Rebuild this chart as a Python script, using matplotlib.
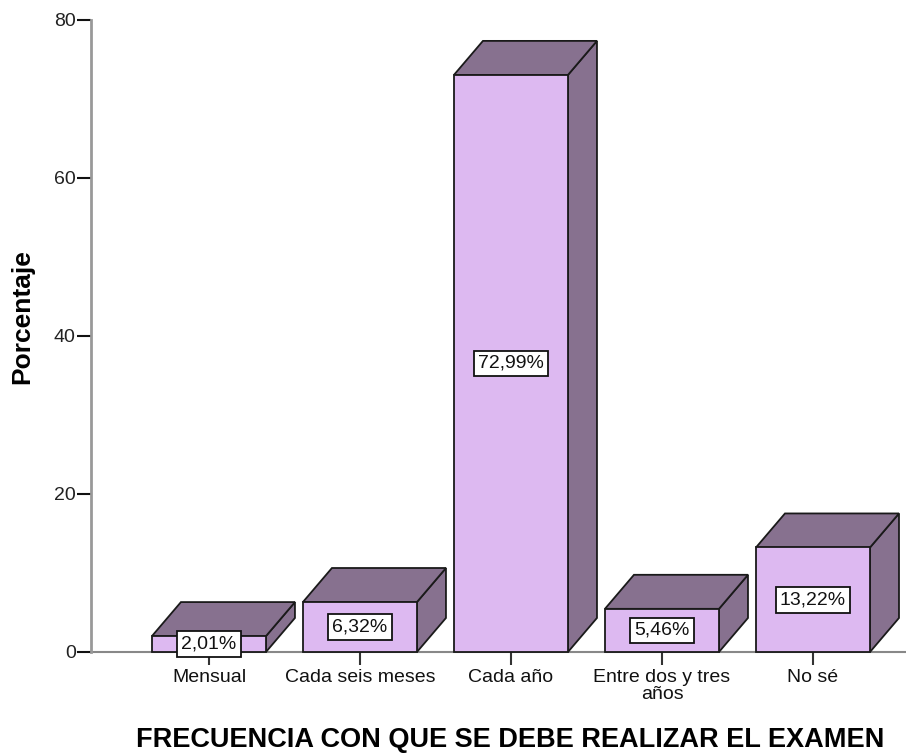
import matplotlib
matplotlib.use('Agg')
import matplotlib.pyplot as plt
from matplotlib.patches import Polygon

plt.rcParams['font.family'] = ['Liberation Sans', 'DejaVu Sans']

# data
categories = ["Mensual", "Cada seis meses", "Cada año", "Entre dos y tres\naños", "No sé"]
percentages = [2.01, 6.32, 72.99, 5.46, 13.22]
y_ticks = [0, 20, 40, 60, 80]

front_color = '#DDB9F1'
dark_color = '#87718F'
edge_color = '#1a1a1a'

fig = plt.figure(figsize=(9.06, 7.53), dpi=100)
ax = fig.add_axes([91 / 906, 101 / 753, 1 - 91 / 906, 632.5 / 753])

ax.set_xlim(-0.781, 4.616)
ax.set_ylim(0, 80)

bar_w = 0.755
# 3D depth, expressed in data units (about 29 px right, 34 px up)
dx = 29 / 151
dy = 34 / 7.9

for i, val in enumerate(percentages):
    x0 = i - bar_w / 2
    x1 = i + bar_w / 2
    # right side face
    side = Polygon([(x1, 0), (x1 + dx, dy), (x1 + dx, val + dy), (x1, val)],
                   closed=True, facecolor=dark_color, edgecolor=edge_color, lw=1.3,
                   zorder=2, clip_on=False)
    # top face
    top = Polygon([(x0, val), (x1, val), (x1 + dx, val + dy), (x0 + dx, val + dy)],
                  closed=True, facecolor=dark_color, edgecolor=edge_color, lw=1.3,
                  zorder=2, clip_on=False)
    front = Polygon([(x0, 0), (x1, 0), (x1, val), (x0, val)],
                    closed=True, facecolor=front_color, edgecolor=edge_color, lw=1.3,
                    zorder=3, clip_on=False)
    ax.add_patch(side)
    ax.add_patch(top)
    ax.add_patch(front)

    label = f"{val:.2f}".replace('.', ',') + '%'
    ax.text(i, val / 2, label, ha='center', va='center', fontsize=14,
            color='#111111', zorder=6,
            bbox=dict(boxstyle='square,pad=0.22', facecolor='white',
                      edgecolor='#111111', lw=1.3))

ax.spines['top'].set_visible(False)
ax.spines['right'].set_visible(False)
ax.spines['left'].set_color('#999999')
ax.spines['left'].set_linewidth(2)
ax.spines['bottom'].set_color('#888888')
ax.spines['bottom'].set_linewidth(1.5)
ax.spines['bottom'].set_zorder(1)

ax.set_yticks(y_ticks)
ax.set_yticklabels([str(t) for t in y_ticks], fontsize=14, color='#222222')
ax.set_xticks(range(len(categories)))
ax.set_xticklabels(categories, fontsize=14, color='#111111', linespacing=1.0)
ax.tick_params(axis='y', length=10, width=1.5, color='#111111', pad=1)
ax.tick_params(axis='x', length=9, width=1.5, color='#333333', pad=3)

fig.text(22 / 906, 1 - 317 / 753, 'Porcentaje', rotation=90, ha='center', va='center',
         fontsize=19, fontweight='bold')
fig.text(510 / 906, 1 - 740 / 753, 'FRECUENCIA CON QUE SE DEBE REALIZAR EL EXAMEN',
         ha='center', va='center', fontsize=19.5, fontweight='bold')

fig.savefig('out.png', dpi=100)
